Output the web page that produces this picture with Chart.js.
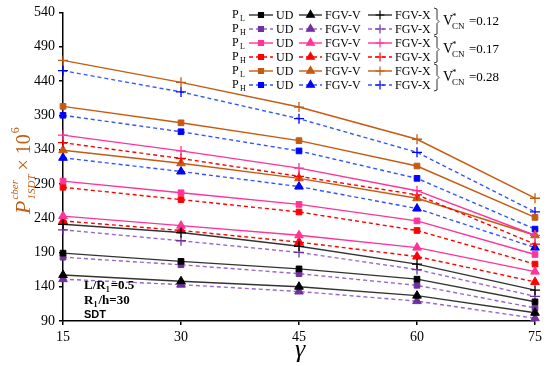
<!DOCTYPE html>
<html>
<head>
<meta charset="utf-8">
<script src="https://cdn.jsdelivr.net/npm/chart.js@4.4.1/dist/chart.umd.min.js"></script>
<style>
  html, body { margin: 0; padding: 0; background: #fff; }
  #wrap { width: 550px; height: 366px; position: relative; }
</style>
</head>
<body>
<div id="wrap"><canvas id="chart"></canvas></div>
<script>
const gammas = [15, 30, 45, 60, 75];
const yTicks = [90, 140, 190, 240, 290, 340, 390, 440, 490, 540];

// V*CN = 0.12
const plUD12 = [189, 177, 166, 151, 118];
const phUD12 = [183, 172, 159, 142, 109];
const plV12 = [157, 148, 140, 127, 102];
const phV12 = [151, 143, 133, 119, 94];
const plX12 = [231, 219, 199, 173, 135];
const phX12 = [223, 207, 190, 165, 126];

// V*CN = 0.17
const plUD17 = [294, 277, 260, 236, 187];
const phUD17 = [285, 267, 249, 222, 173];
const plV17 = [243, 229, 215, 197, 162];
const phV17 = [236, 222, 205, 184, 147];
const plX17 = [361, 338, 313, 280, 215];
const phX17 = [350, 327, 301, 274, 202];

// V*CN = 0.28
const plUD28 = [403, 379, 353, 316, 241];
const phUD28 = [390, 366, 338, 298, 224];
const plV28 = [339, 320, 298, 269, 215];
const phV28 = [328, 308, 286, 254, 197];
const plX28 = [470, 438, 402, 355, 269];
const phX28 = [455, 424, 385, 336, 249];

const groupLabels = ['0.12', '0.17', '0.28'];
const typeLabels = ['UD', 'FGV-V', 'FGV-X'];

const black = '#000000';
const purple = '#7030A0';
const purpleLine = '#9966CC';
const pink = '#FF3399';
const red = '#FF0000';
const orange = '#C55A11';
const blue = '#0000FF';
const blueLine = '#3355FF';

// rows of the legend, top to bottom: [plate, marker colour, line colour, dashed, values per type]
const rows = [
  ['L', black, '#333333', false, [plUD12, plV12, plX12]],
  ['H', purple, purpleLine, true, [phUD12, phV12, phX12]],
  ['L', pink, pink, false, [plUD17, plV17, plX17]],
  ['H', red, red, true, [phUD17, phV17, phX17]],
  ['L', orange, orange, false, [plUD28, plV28, plX28]],
  ['H', blue, blueLine, true, [phUD28, phV28, phX28]],
];
const markers = [
  { style: 'rect', radius: 4 },
  { style: 'triangle', radius: 5 },
  { style: 'cross', radius: 5 },
];

const datasets = [];
rows.forEach(([plate, mColor, lColor, dashed, series]) => {
  series.forEach((values, i) => {
    datasets.push({
      label: 'P' + plate + ' ' + typeLabels[i],
      data: gammas.map((g, k) => ({ x: g, y: values[k] })),
      borderColor: lColor,
      backgroundColor: mColor,
      pointBorderColor: mColor,
      pointBackgroundColor: mColor,
      borderWidth: 1.4,
      borderDash: dashed ? [4, 3] : [],
      pointStyle: markers[i].style,
      pointRadius: markers[i].radius,
      pointBorderWidth: markers[i].style === 'cross' ? 1.3 : 1,
      tension: 0,
      clip: false,
    });
  });
});

const serif = '"Liberation Serif", "Times New Roman", serif';

const overlay = {
  id: 'overlay',
  afterDraw(chart) {
    const ctx = chart.ctx;
    ctx.save();
    ctx.textBaseline = 'middle';

    // legend table
    const colLine = [[249, 273], [299, 322], [368, 392]];
    rows.forEach(([plate, mColor, lColor, dashed], r) => {
      const y = 15 + r * 14;
      ctx.fillStyle = '#000';
      ctx.textAlign = 'left';
      ctx.font = '12px ' + serif;
      ctx.fillText('P', 232, y);
      ctx.font = '8px ' + serif;
      ctx.fillText(plate, 240, y + 4);
      colLine.forEach(([x0, x1], i) => {
        ctx.strokeStyle = lColor;
        ctx.lineWidth = 1.4;
        ctx.setLineDash(dashed ? [4, 3] : []);
        ctx.beginPath();
        ctx.moveTo(x0, y);
        ctx.lineTo(x1, y);
        ctx.stroke();
        ctx.setLineDash([]);
        ctx.fillStyle = mColor;
        ctx.strokeStyle = mColor;
        ctx.lineWidth = 1.2;
        Chart.helpers.drawPoint(ctx, {
          pointStyle: markers[i].style,
          radius: markers[i].radius - 0.5,
          rotation: 0,
          borderWidth: 1.2,
        }, (x0 + x1) / 2, y);
        ctx.fillStyle = '#000';
        ctx.font = '12px ' + serif;
        ctx.fillText(typeLabels[i], x1 + 3, y + 1);
      });
    });

    // brackets with V*CN labels
    groupLabels.forEach((label, g) => {
      const top = 8 + g * 28;
      const bottom = top + 27;
      const mid = (top + bottom) / 2;
      ctx.strokeStyle = '#333';
      ctx.lineWidth = 1;
      ctx.beginPath();
      ctx.moveTo(434, top);
      ctx.lineTo(437, top + 1);
      ctx.lineTo(437, mid - 2);
      ctx.lineTo(439, mid);
      ctx.lineTo(437, mid + 2);
      ctx.lineTo(437, bottom - 1);
      ctx.lineTo(434, bottom);
      ctx.stroke();

      ctx.fillStyle = '#000';
      ctx.textAlign = 'left';
      ctx.font = '14px ' + serif;
      ctx.fillText('V', 443, mid);
      ctx.font = '9px ' + serif;
      ctx.fillText('*', 452, mid - 5);
      ctx.fillText('CN', 452, mid + 5);
      ctx.font = '13px ' + serif;
      ctx.fillText('=' + label, 469, mid);
    });

    // parameter notes
    ctx.fillStyle = '#000';
    ctx.font = 'bold 13px ' + serif;
    ctx.fillText('L/R', 84, 286);
    let w = ctx.measureText('L/R').width;
    ctx.font = 'bold 8px ' + serif;
    ctx.fillText('1', 84 + w, 290);
    ctx.font = 'bold 13px ' + serif;
    ctx.fillText('=0.5', 89 + w, 286);
    ctx.fillText('R', 84, 301);
    w = ctx.measureText('R').width;
    ctx.font = 'bold 8px ' + serif;
    ctx.fillText('1', 84 + w, 305);
    ctx.font = 'bold 13px ' + serif;
    ctx.fillText('/h=30', 89 + w, 301);
    ctx.font = 'bold 11px "Liberation Sans", Arial, sans-serif';
    ctx.fillText('SDT', 84, 315);

    // x title
    ctx.textAlign = 'center';
    ctx.font = 'italic 26px ' + serif;
    ctx.fillText('γ', 300, 350);

    // y title, rotated
    ctx.translate(24, 170);
    ctx.rotate(-Math.PI / 2);
    ctx.fillStyle = orange;
    ctx.textAlign = 'left';
    ctx.textBaseline = 'alphabetic';
    let x = -44;
    ctx.font = 'italic 22px ' + serif;
    ctx.fillText('P', x, 6);
    x += ctx.measureText('P').width + 1;
    ctx.font = 'italic 11px ' + serif;
    ctx.fillText('cber', x, -6);
    ctx.fillText('1SDT', x, 11);
    x += ctx.measureText('1SDT').width + 4;
    ctx.font = '20px ' + serif;
    ctx.fillText('× 10', x, 6);
    x += ctx.measureText('× 10').width + 1;
    ctx.font = '12px ' + serif;
    ctx.fillText('6', x, -5);
    ctx.restore();
  },
};

new Chart(document.getElementById('chart'), {
  type: 'line',
  data: { datasets },
  options: {
    responsive: true,
    maintainAspectRatio: false,
    animation: false,
    layout: { padding: { top: 12, right: 15, left: 0, bottom: 0 } },
    plugins: {
      legend: { display: false },
      tooltip: { enabled: false },
    },
    scales: {
      x: {
        type: 'linear',
        min: 15,
        max: 75,
        afterFit: (scale) => { scale.height = 45; },
        afterBuildTicks: (scale) => { scale.ticks = gammas.map((v) => ({ value: v })); },
        ticks: {
          color: '#000',
          font: { family: serif, size: 14 },
          padding: 4,
        },
        grid: { display: true, drawOnChartArea: false, drawTicks: true, tickLength: 4, color: '#000', lineWidth: 1.5 },
        border: { color: '#000', width: 1.5 },
      },
      y: {
        min: 90,
        max: 540,
        afterFit: (scale) => { scale.width = 63; },
        afterBuildTicks: (scale) => { scale.ticks = yTicks.map((v) => ({ value: v })); },
        ticks: {
          color: '#000',
          font: { family: serif, size: 14 },
          padding: 4,
        },
        grid: { display: true, drawOnChartArea: false, drawTicks: true, tickLength: 4, color: '#000', lineWidth: 1.5 },
        border: { color: '#000', width: 1.5 },
      },
    },
  },
  plugins: [overlay],
});
</script>
</body>
</html>
